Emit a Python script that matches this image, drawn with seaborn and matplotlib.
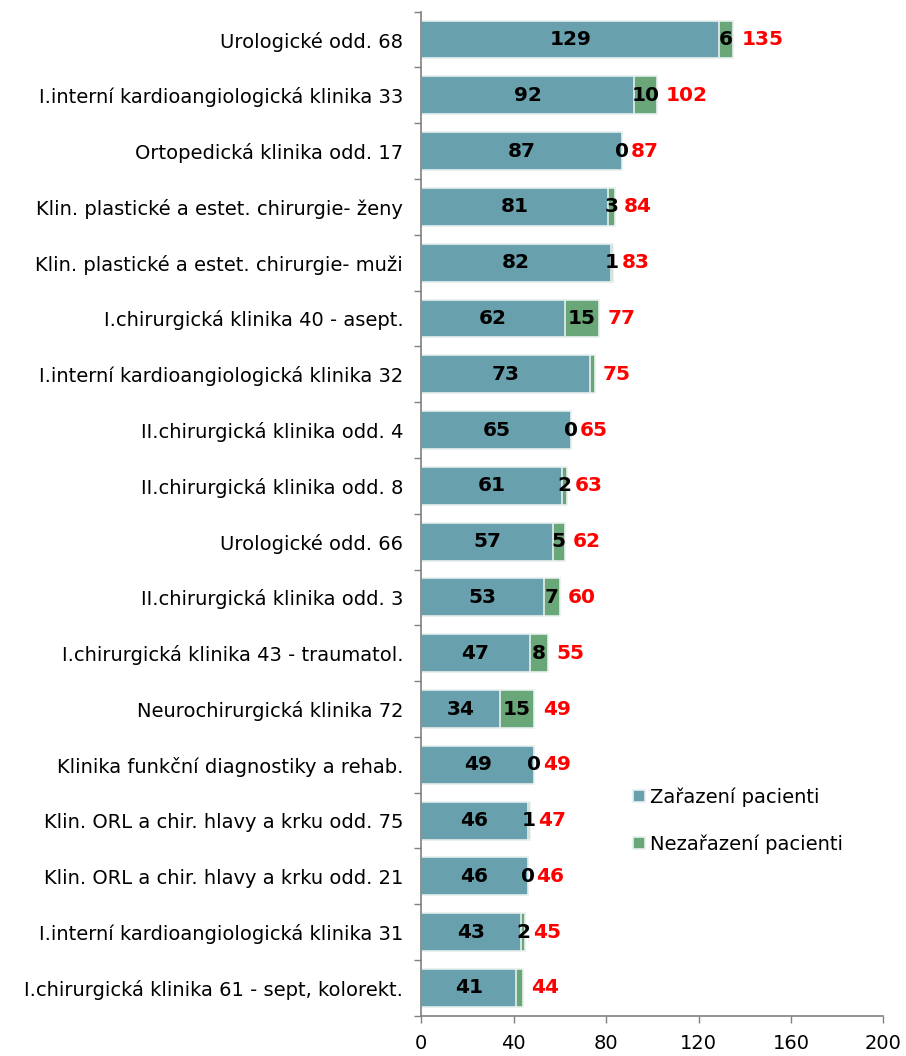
import pandas as pd
import numpy as np
import matplotlib
matplotlib.use("Agg")
import matplotlib.pyplot as plt
import seaborn as sns
from matplotlib.ticker import FixedLocator

# Data
departments = [
    "Urologické odd. 68",
    "I.interní kardioangiologická klinika 33",
    "Ortopedická klinika odd. 17",
    "Klin. plastické a estet. chirurgie- ženy",
    "Klin. plastické a estet. chirurgie- muži",
    "I.chirurgická klinika 40 - asept.",
    "I.interní kardioangiologická klinika 32",
    "II.chirurgická klinika odd. 4",
    "II.chirurgická klinika odd. 8",
    "Urologické odd. 66",
    "II.chirurgická klinika odd. 3",
    "I.chirurgická klinika 43 - traumatol.",
    "Neurochirurgická klinika 72",
    "Klinika funkční diagnostiky a rehab.",
    "Klin. ORL a chir. hlavy a krku odd. 75",
    "Klin. ORL a chir. hlavy a krku odd. 21",
    "I.interní kardioangiologická klinika 31",
    "I.chirurgická klinika 61 - sept, kolorekt.",
]
zarazeni = [129, 92, 87, 81, 82, 62, 73, 65, 61, 57, 53, 47, 34, 49, 46, 46, 43, 41]
nezarazeni = [6, 10, 0, 3, 1, 15, 2, 0, 2, 5, 7, 8, 15, 0, 1, 0, 2, 3]
# labels of the green segment that are shown in the original
nezarazeni_shown = [True] * 6 + [False] + [True] * 10 + [False]

df = pd.DataFrame({
    "odd": departments,
    "Zařazení pacienti": zarazeni,
    "Nezařazení pacienti": nezarazeni,
})
df["celkem"] = df["Zařazení pacienti"] + df["Nezařazení pacienti"]

blue = "#68A0AE"
green = "#69A778"

sns.set_style("white")
plt.rcParams["font.family"] = "sans-serif"
plt.rcParams["font.sans-serif"] = ["DejaVu Sans"]
plt.rcParams["text.color"] = "black"
plt.rcParams["xtick.color"] = "black"
plt.rcParams["ytick.color"] = "black"

fig, ax = plt.subplots(figsize=(9.06, 10.56), dpi=100)
fig.subplots_adjust(left=0.465, right=0.975, top=0.989, bottom=0.038)

# stacked bars: totals in green, blue drawn on top
sns.barplot(data=df, y="odd", x="celkem", color=green, width=0.68,
            edgecolor="#E8F0F0", linewidth=1.2, saturation=1, ax=ax,
            label="Nezařazení pacienti")
sns.barplot(data=df, y="odd", x="Zařazení pacienti", color=blue, width=0.68,
            edgecolor="#E8F0F0", linewidth=1.2, saturation=1, ax=ax,
            label="Zařazení pacienti")

fs = 14
fsb = 14.5
for i, row in df.iterrows():
    b = row["Zařazení pacienti"]
    g = row["Nezařazení pacienti"]
    t = row["celkem"]
    ax.text(b / 2, i, str(b), ha="center", va="center", fontsize=fsb,
            fontweight="bold", color="black")
    if nezarazeni_shown[i]:
        ax.text(b + g / 2, i, str(g), ha="center", va="center", fontsize=fsb,
                fontweight="bold", color="black")
    ax.annotate(str(t), xy=(t, i), xytext=(6, 0), textcoords="offset points",
                ha="left", va="center", fontsize=fsb, fontweight="bold",
                color="#FF0000")

ax.set_xlim(0, 200)
ax.set_ylim(len(departments) - 0.5, -0.5)
ax.set_xticks([0, 40, 80, 120, 160, 200])
ax.set_xlabel("")
ax.set_ylabel("")
ax.tick_params(axis="x", labelsize=fs, length=5, width=1, color="#808080",
               labelcolor="black", direction="out", pad=8, bottom=True)
ax.tick_params(axis="y", which="major", labelsize=fs, length=0, pad=13,
               labelcolor="black")
ax.yaxis.set_minor_locator(FixedLocator(np.arange(-0.5, len(departments), 1)))
ax.tick_params(axis="y", which="minor", length=5, width=1, color="#808080",
               direction="out", left=True)

sns.despine(ax=ax)
for s in ["left", "bottom"]:
    ax.spines[s].set_color("#808080")
    ax.spines[s].set_linewidth(1.2)

handles, labels = ax.get_legend_handles_labels()
ax.legend(handles[::-1], labels[::-1], loc="upper left",
          bbox_to_anchor=(0.42, 0.245), frameon=False, fontsize=fs,
          handlelength=0.6, handleheight=0.6, handletextpad=0.3,
          labelspacing=1.4)

plt.savefig("out.png", dpi=100)
